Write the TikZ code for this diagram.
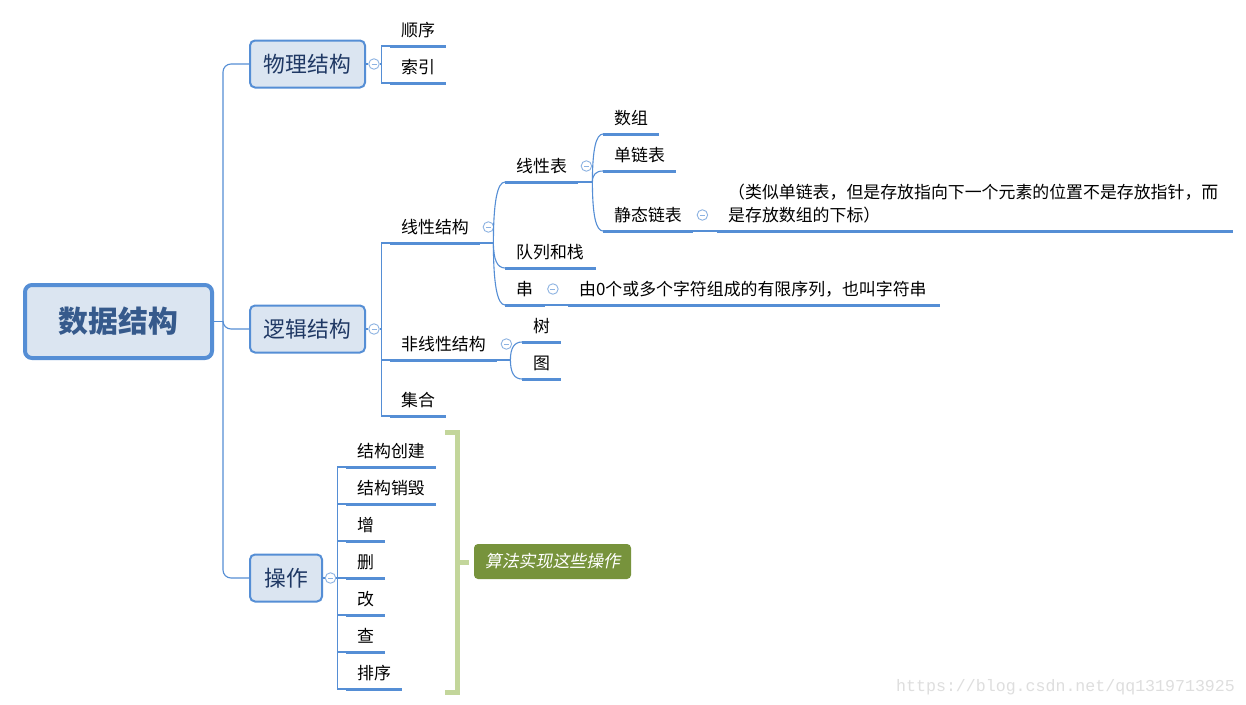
\documentclass[tikz,border=0pt]{standalone}
\usepackage{fontspec}
\setmainfont{Noto Sans CJK SC}
\newfontfamily\cjkit{Noto Sans CJK SC}[FakeSlant=0.2]
\newfontfamily\wmfont{Liberation Mono}
\usetikzlibrary{calc}
\definecolor{boxfill}{RGB}{219,229,241}
\definecolor{boxline}{RGB}{85,142,213}
\definecolor{lvltext}{RGB}{31,56,100}
\definecolor{roottext}{RGB}{54,90,140}
\definecolor{foldc}{RGB}{141,179,226}
\definecolor{olivefill}{RGB}{119,147,60}
\definecolor{brkcol}{RGB}{195,214,155}
\definecolor{wmcol}{RGB}{222,222,222}
\begin{document}
\begin{tikzpicture}[x=1pt,y=-1pt,
 conn/.style={draw=boxline, line width=1.1pt},
 ul/.style={draw=boxline, line width=3pt},
 rootbox/.style={draw=boxline, fill=boxfill, line width=4pt, rounded corners=7pt, minimum width=187pt, minimum height=73pt, inner sep=0pt, font=\fontsize{29.8}{32}\selectfont\bfseries, text=roottext},
 topic/.style={draw=boxline, fill=boxfill, line width=2pt, rounded corners=5pt, minimum height=47pt, inner sep=0pt, font=\fontsize{21.8}{24}\selectfont, text=lvltext},
 leaf/.style={anchor=south west, inner sep=0pt, text width=#1, align=left, text height=13pt, text depth=9pt, font=\fontsize{16.9}{23}\selectfont, execute at begin node={\hspace*{11pt}}},
 fold/.style={circle, draw=foldc, fill=white, line width=0.9pt, minimum size=10.5pt, inner sep=0pt, path picture={\draw[foldc, line width=0.9pt] ([xshift=-2.5pt]path picture bounding box.center) -- ([xshift=2.5pt]path picture bounding box.center);}},
 summ/.style={fill=olivefill, rounded corners=4pt, minimum width=157pt, minimum height=35pt, inner sep=0pt, text=white, font=\cjkit\fontsize{16.9}{18}\selectfont},
 brk/.style={draw=brkcol, line width=5pt},
 curv/.style={conn}
]
\fill[white] (0,0) rectangle (1246,704);
\useasboundingbox (0,0) rectangle (1246,704);

% main topics
\node[rootbox] (root) at (118.5,321.5) {数据结构};
\node[topic, minimum width=115pt] (wuli) at (307.5,64) {物理结构};
\node[topic, minimum width=115pt] (luoji) at (307.5,329) {逻辑结构};
\node[topic, minimum width=72pt] (caozuo) at (286,578) {操作};

% leaves
\node[leaf=56pt] (shunxu) at (390,46) {顺序};
\node[leaf=56pt] (suoyin) at (390,83) {索引};
\node[leaf=90pt] (xxjg) at (390,243) {线性结构};
\node[leaf=107pt] (fxxjg) at (390,360) {非线性结构};
\node[leaf=56pt] (jihe) at (390,416) {集合};
\node[leaf=73pt] (xxb) at (505,182) {线性表};
\node[leaf=91pt] (dlzh) at (505,268) {队列和栈};
\node[leaf=40pt] (chuan) at (505,305) {串};
\node[leaf=372pt] (chuand) at (568,305) {由0个或多个字符组成的有限序列，也叫字符串};
\node[leaf=56pt] (shuzu) at (603,134) {数组};
\node[leaf=73pt] (dlb) at (603,171) {单链表};
\node[leaf=90pt] (jtlb) at (603,231) {静态链表};
\node[leaf=516pt] (jtd) at (717,231) {\parbox[b]{504pt}{\raggedright （类似单链表，但是存放指向下一个元素的位置不是存放指针，而\\是存放数组的下标）}};
\node[leaf=39pt] (shu) at (522,342) {树};
\node[leaf=39pt] (tu) at (522,379) {图};
\node[leaf=90pt] (cj) at (346,467) {结构创建};
\node[leaf=90pt] (xh) at (346,504) {结构销毁};
\node[leaf=39pt] (zeng) at (346,541) {增};
\node[leaf=39pt] (shan) at (346,578) {删};
\node[leaf=39pt] (gai) at (346,615) {改};
\node[leaf=39pt] (cha) at (346,652) {查};
\node[leaf=56pt] (px) at (346,689) {排序};

% fold markers
\node[fold] (c1) at ($(wuli.east)+(8,0)$) {};
\node[fold] (c2) at ($(luoji.east)+(8,0)$) {};
\node[fold] (c3) at ($(caozuo.east)+(7.5,0)$) {};
\node[fold] (c4) at ($(xxjg.south east)+(8,-16)$) {};
\node[fold] (c5) at ($(fxxjg.south east)+(9,-16)$) {};
\node[fold] (c6) at ($(xxb.south east)+(8,-16)$) {};
\node[fold] (c7) at ($(chuan.south east)+(7.5,-16)$) {};
\node[fold] (c8) at ($(jtlb.south east)+(9,-16)$) {};

% root trunk
\coordinate (trunk) at (223,321.5);
\draw[conn] (root.east) -- (trunk);
\foreach \n in {wuli,luoji,caozuo} \draw[conn, rounded corners=8pt] (trunk) |- (\n.west);

% physical
\coordinate (f1) at ($(c1.east)+(2,0)$);
\draw[conn] (wuli.east) -- (c1.west);
\draw[conn] (c1.east) -- (f1);
\foreach \n in {shunxu,suoyin} \draw[conn] (f1) |- (\n.south west);

% logical
\coordinate (f2) at ($(c2.east)+(1.5,0)$);
\draw[conn] (luoji.east) -- (c2.west);
\draw[conn] (c2.east) -- (f2);
\foreach \n in {xxjg,fxxjg,jihe} \draw[conn] (f2) |- (\n.south west);

% operations
\coordinate (f3) at ($(c3.east)+(1.5,0)$);
\draw[conn] (caozuo.east) -- (c3.west);
\draw[conn] (c3.east) -- (f3);
\foreach \n in {cj,xh,zeng,shan,gai,cha,px} \draw[conn] (f3) |- (\n.south west);

% curved forks
\coordinate (f4) at ($(xxjg.south east)+(13,0)$);
\draw[conn] (xxjg.south east) -- (f4);
\foreach \n in {xxb,dlzh,chuan}
  \draw[curv] (f4) .. controls ($(f4)!0.667!(f4 |- \n.south west)$) and ($(\n.south west)!0.667!(f4 |- \n.south west)$) .. (\n.south west);

\coordinate (f5) at ($(xxb.south east)+(14,0)$);
\draw[conn] (xxb.south east) -- (f5);
\foreach \n in {shuzu,dlb,jtlb}
  \draw[curv] (f5) .. controls ($(f5)!0.667!(f5 |- \n.south west)$) and ($(\n.south west)!0.667!(f5 |- \n.south west)$) .. (\n.south west);

\coordinate (f6) at ($(fxxjg.south east)+(13,0)$);
\draw[conn] (fxxjg.south east) -- (f6);
\foreach \n in {shu,tu}
  \draw[curv] (f6) .. controls ($(f6)!0.667!(f6 |- \n.south west)$) and ($(\n.south west)!0.667!(f6 |- \n.south west)$) .. (\n.south west);

\draw[conn] (chuan.south east) -- (chuand.south west);
\draw[conn] (jtlb.south east) -- (jtd.south west);

% underlines
\foreach \n in {shunxu,suoyin,xxjg,fxxjg,jihe,xxb,dlzh,chuan,chuand,shuzu,dlb,jtlb,jtd,shu,tu,cj,xh,zeng,shan,gai,cha,px}
  \draw[ul] (\n.south west) -- (\n.south east);

% summary bracket
\node[summ] (summ) at (552.5,561.5) {算法实现这些操作};
\coordinate (bt) at (445,432);
\coordinate (bb) at (445,692);
\coordinate (bm) at (457,562);
\draw[brk] (bt) -- (bt -| bm) -- (bb -| bm) -- (bb);
\draw[brk, shorten >=5pt] (bm) -- (bm -| summ.west);

% watermark
\node[font=\wmfont\fontsize{16.6}{18}\selectfont, text=wmcol, anchor=base west, inner sep=0pt] (wmk) at (896,691) {https://blog.csdn.net/qq1319713925};
\end{tikzpicture}
\end{document}
